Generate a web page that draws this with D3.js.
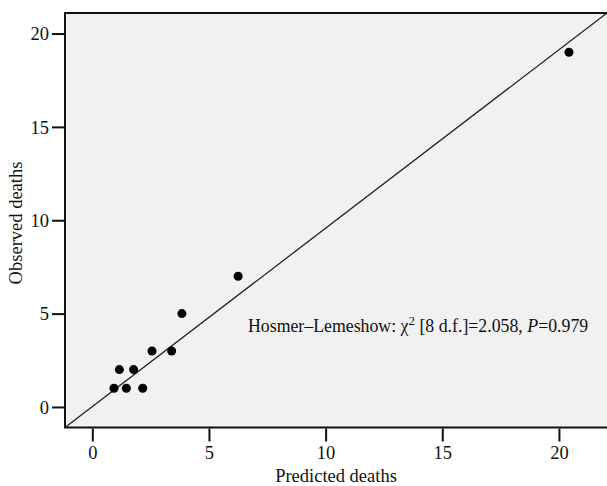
<!DOCTYPE html>
<html>
<head>
<meta charset="utf-8">
<script src="https://cdn.jsdelivr.net/npm/d3@7"></script>
<style>
  body { margin: 0; background: #fff; }
  svg text { font-family: "Liberation Serif", "Times New Roman", serif; fill: #111; }
</style>
</head>
<body>
<svg id="chart" width="607" height="486"></svg>
<script>
// predicted vs observed deaths per risk group
var predicted = [0.93, 1.16, 1.46, 1.77, 2.16, 2.56, 3.40, 3.84, 6.25, 20.43];
var observed  = [1, 2, 1, 2, 1, 3, 3, 5, 7, 19];
var xTicks = [0, 5, 10, 15, 20];
var yTicks = [0, 5, 10, 15, 20];
var xDomain = [-1.17, 22.06];
var yDomain = [-1.1, 21.1];

var margin = {top: 13, left: 65, bottom: 58.5};
var width = 607 - margin.left;
var height = 486 - margin.top - margin.bottom;

var svg = d3.select("#chart");
var g = svg.append("g")
    .attr("transform", "translate(" + margin.left + "," + margin.top + ")");

var x = d3.scaleLinear().domain(xDomain).range([0, width]);
var y = d3.scaleLinear().domain(yDomain).range([height, 0]);

// plot background, right edge runs off the picture
g.append("rect")
    .attr("x", 0).attr("y", 0)
    .attr("width", width + 10).attr("height", height)
    .attr("fill", "#f1f1f1")
    .attr("stroke", "#111")
    .attr("stroke-width", 2);

// reference diagonal
g.append("line")
    .attr("x1", x(xDomain[0])).attr("y1", y(yDomain[0]))
    .attr("x2", x(xDomain[1])).attr("y2", y(yDomain[1]))
    .attr("stroke", "#222")
    .attr("stroke-width", 1.3);

// axes
var xAxis = g.append("g")
    .attr("transform", "translate(0," + (height + 1) + ")")
    .call(d3.axisBottom(x).tickValues(xTicks).tickSize(13).tickPadding(4));
var yAxis = g.append("g")
    .attr("transform", "translate(-1,0)")
    .call(d3.axisLeft(y).tickValues(yTicks).tickSize(12).tickPadding(3));

[xAxis, yAxis].forEach(function(a) {
    a.select(".domain").remove();
    a.selectAll(".tick line").attr("stroke", "#111").attr("stroke-width", 2);
    a.selectAll(".tick text")
        .style("font-family", "Liberation Serif, serif")
        .style("font-size", "18.5px")
        .attr("fill", "#111");
});
yAxis.selectAll(".tick text").attr("dy", "0.34em");

// points
g.selectAll("circle.pt")
    .data(predicted)
    .enter()
    .append("circle")
    .attr("class", "pt")
    .attr("cx", function(d) { return x(d); })
    .attr("cy", function(d, i) { return y(observed[i]); })
    .attr("r", 4.5)
    .attr("fill", "#000");

// annotation
var note = g.append("text")
    .attr("x", 183)
    .attr("y", 319)
    .style("font-size", "17.8px");
note.append("tspan").text("Hosmer\u2013Lemeshow: \u03c7");
note.append("tspan").attr("dy", -7).style("font-size", "13px").text("2");
note.append("tspan").attr("dy", 7).text(" [8 d.f.]=2.058, ");
note.append("tspan").style("font-style", "italic").text("P");
note.append("tspan").text("=0.979");

// axis titles
svg.append("text")
    .attr("x", 336).attr("y", 482)
    .attr("text-anchor", "middle")
    .style("font-size", "18.5px")
    .text("Predicted deaths");

svg.append("text")
    .attr("transform", "translate(22,223) rotate(-90)")
    .attr("text-anchor", "middle")
    .style("font-size", "18.5px")
    .text("Observed deaths");
</script>
</body>
</html>
